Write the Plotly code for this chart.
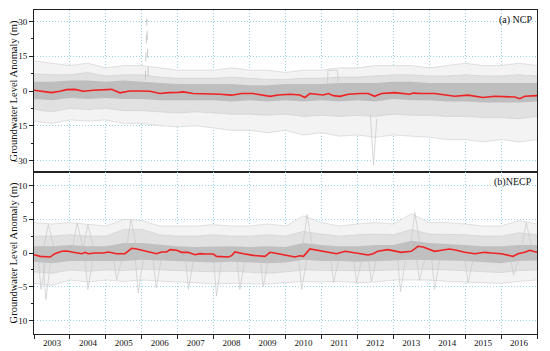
import plotly.graph_objects as go
from plotly.subplots import make_subplots

# ---------------- data ----------------
years = list(range(2003, 2017))
year_labels = [str(y) for y in years]
band_t = [2003.0 + 0.5 * i for i in range(29)]

# (a) NCP – envelope of individual well hydrographs (m)
ncp_outer_hi = [13, 12, 11, 12, 10, 11, 11, 10, 9, 9, 9, 10, 9, 9, 8, 9, 9, 10, 10, 11, 11, 11, 10, 11, 12, 11, 11, 12, 11]
ncp_mid_hi = [7.5, 7, 7, 8, 6.5, 7, 7, 6, 5.5, 5.5, 5.5, 6, 5.5, 5, 5, 5.5, 5.5, 6, 6, 6.5, 7, 7, 6.5, 6.5, 7, 6.5, 6.5, 7, 6.5]
ncp_core_hi = [4, 4, 4.5, 4.5, 4, 4.5, 4, 3.5, 3, 3, 3, 3, 2.5, 2.5, 3, 3, 3, 3.5, 3.5, 3.5, 4, 4, 3.5, 3.5, 3.5, 3.5, 3.5, 3.5, 3.5]
ncp_core_lo = [-3.5, -4, -3, -3.5, -3, -3.5, -3.5, -4, -4, -4, -4, -4.5, -4, -4.5, -4, -4.5, -4, -4.5, -4, -4.5, -3.5, -4, -4, -4.5, -4.5, -5, -5, -5, -4.5]
ncp_mid_lo = [-8, -9, -7.5, -8, -7.5, -8.5, -8.5, -9, -9.5, -9, -9.5, -10, -10, -10.5, -10, -11, -10.5, -11, -10.5, -11, -10, -10.5, -10.5, -11, -11, -11.5, -11.5, -12, -11]
ncp_outer_lo = [-13, -14, -12.5, -13, -12.5, -14, -14, -15, -15.5, -15, -16, -17, -17, -18, -17, -19, -18, -19.5, -19, -20, -19, -19.5, -20, -21, -21, -22, -21, -22, -21]

# (a) NCP – regional mean (red)
ncp_mean_t = [2003.0, 2003.49, 2003.72, 2003.91, 2004.14, 2004.37, 2004.65, 2004.88, 2005.16, 2005.39,
              2005.67, 2005.95, 2006.23, 2006.51, 2006.74, 2007.02, 2007.16, 2007.43, 2007.71, 2007.90,
              2008.18, 2008.50, 2008.78, 2009.10, 2009.43, 2009.57, 2009.80, 2010.13, 2010.40, 2010.54,
              2010.68, 2010.91, 2011.05, 2011.19, 2011.33, 2011.52, 2011.75, 2012.07, 2012.30, 2012.48,
              2012.67, 2013.04, 2013.22, 2013.46, 2013.55, 2013.78, 2014.15, 2014.38, 2014.71, 2015.08,
              2015.50, 2015.82, 2016.10, 2016.38, 2016.52, 2016.66, 2017.0]
ncp_mean_v = [0.3, -0.7, -0.1, 0.6, 0.7, -0.1, 0.3, 0.4, 0.7, -0.8,
              0.0, 0.0, -0.1, -1.1, -0.7, -0.6, -0.4, -1.1, -1.2, -1.1,
              -1.4, -1.8, -1.1, -1.1, -2.1, -2.3, -1.7, -1.4, -1.7, -2.8,
              -1.1, -1.4, -1.7, -1.1, -2.0, -2.3, -1.4, -1.1, -1.1, -2.3,
              -1.1, -0.7, -0.9, -1.4, -0.9, -1.1, -1.1, -1.7, -2.3, -1.8,
              -2.8, -2.3, -2.6, -2.6, -3.3, -2.3, -2.0]

# (a) NCP – isolated outlier wells
ncp_spike_t = [2006.10, 2006.14, 2006.18]
ncp_spike_v = [5, 31, 5]
ncp_dip_t = [2012.36, 2012.45, 2012.54]
ncp_dip_v = [-10, -32, -12]
ncp_step_t = [2011.17, 2011.18, 2011.45, 2011.46]
ncp_step_v = [3, 9, 9, 3]

# (b) NECP – envelope
necp_outer_hi = [4.5, 4.3, 4.5, 4.3, 4.0, 5.0, 4.8, 4.0, 4.0, 4.0, 4.2, 4.0, 4.0, 4.3, 4.0, 5.5, 4.5, 4.0, 4.3, 4.5, 4.3, 5.8, 4.5, 4.5, 4.3, 4.0, 4.0, 4.8, 4.3]
necp_mid_hi = [2.5, 2.5, 2.7, 2.5, 2.5, 3.5, 3.5, 2.7, 2.5, 2.5, 2.7, 2.5, 2.5, 2.7, 2.5, 3.2, 2.8, 2.5, 2.7, 2.8, 2.7, 3.5, 2.8, 2.8, 2.7, 2.5, 2.5, 3.0, 2.7]
necp_core_hi = [1.0, 1.0, 1.2, 1.0, 1.0, 1.5, 1.5, 1.2, 1.0, 0.9, 1.0, 1.0, 0.9, 1.0, 0.9, 1.5, 1.2, 1.0, 1.0, 1.2, 1.2, 1.8, 1.5, 1.4, 1.2, 1.0, 1.0, 1.2, 1.2]
necp_core_lo = [-1.3, -1.5, -1.2, -1.3, -1.2, -1.2, -1.0, -1.2, -1.2, -1.3, -1.4, -1.3, -1.4, -1.5, -1.4, -1.0, -1.2, -1.2, -1.3, -1.2, -1.1, -1.0, -1.0, -1.1, -1.2, -1.3, -1.5, -1.2, -1.1]
necp_mid_lo = [-2.8, -3.0, -2.5, -2.7, -2.5, -2.6, -2.4, -2.5, -2.6, -2.7, -2.8, -2.7, -2.8, -3.0, -2.8, -2.5, -2.6, -2.6, -2.7, -2.6, -2.5, -2.4, -2.4, -2.5, -2.6, -2.7, -2.9, -2.6, -2.5]
necp_outer_lo = [-4.5, -4.8, -4.0, -4.3, -4.0, -4.2, -4.0, -4.2, -4.3, -4.4, -4.6, -4.5, -4.5, -4.6, -4.4, -4.2, -4.3, -4.2, -4.4, -4.3, -4.0, -4.0, -4.0, -4.2, -4.3, -4.4, -4.5, -4.2, -4.0]

# (b) NECP – regional mean (red)
necp_mean_t = [2003.0, 2003.17, 2003.45, 2003.58, 2003.77, 2003.91, 2004.09, 2004.33, 2004.42, 2004.51,
               2004.70, 2004.93, 2005.07, 2005.30, 2005.53, 2005.72, 2005.86, 2006.04, 2006.23, 2006.41,
               2006.55, 2006.69, 2006.79, 2006.97, 2007.11, 2007.29, 2007.48, 2007.62, 2007.76, 2007.99,
               2008.08, 2008.41, 2008.50, 2008.59, 2008.83, 2009.10, 2009.43, 2009.57, 2009.80, 2010.08,
               2010.26, 2010.40, 2010.50, 2010.68, 2010.87, 2011.10, 2011.42, 2011.66, 2011.84, 2012.07,
               2012.30, 2012.44, 2012.57, 2012.85, 2013.04, 2013.22, 2013.50, 2013.69, 2013.83, 2014.15,
               2014.34, 2014.57, 2014.76, 2014.99, 2015.27, 2015.50, 2015.54, 2015.73, 2016.01, 2016.33,
               2016.47, 2016.66, 2016.80, 2016.89, 2017.0]
necp_mean_v = [-0.25, -0.5, -0.6, -0.1, 0.25, 0.3, 0.1, -0.1, 0.1, -0.1,
               0.0, 0.0, 0.15, -0.1, -0.1, 0.7, 0.6, 0.4, 0.1, -0.1,
               0.15, 0.15, 0.5, 0.4, 0.1, 0.1, -0.25, -0.1, -0.15, -0.15,
               -0.5, -0.6, -0.4, 0.15, -0.1, -0.35, -0.5, 0.1, -0.1, -0.4,
               -0.6, -0.4, -0.5, 0.6, 0.4, 0.15, -0.1, 0.25, 0.1, -0.1,
               -0.3, -0.1, 0.25, 0.5, 0.25, 0.1, 0.25, 1.0, 0.9, 0.25,
               0.4, 0.6, 0.4, 0.1, -0.1, 0.0, 0.1, 0.0, -0.1, -0.5,
               -0.1, 0.1, 0.4, 0.25, 0.1]

# (b) NECP – sharp seasonal drawdowns / rises of single wells
necp_dip_t = [2003.2, 2003.33, 2004.5, 2005.3, 2005.9, 2006.4, 2007.3, 2008.08, 2008.73, 2009.38,
              2010.45, 2011.34, 2011.98, 2012.39, 2013.2, 2013.73, 2014.15, 2015.08, 2016.35]
necp_dip_v = [-5.4, -6.9, -5.4, -4.0, -5.9, -5.2, -5.4, -6.4, -5.4, -5.0,
              -5.4, -4.4, -4.4, -4.2, -5.7, -4.0, -5.4, -4.5, -3.3]
necp_rise_t = [2003.4, 2004.2, 2004.5, 2005.7, 2010.6, 2013.6, 2016.7]
necp_rise_v = [4.2, 4.5, 4.2, 5.0, 5.7, 6.0, 4.5]

# ---------------- figure ----------------
FONT = "Times New Roman, Liberation Serif, serif"
GRID = "rgb(150,212,235)"
GDASH = "1px,2px"
RED = "#ee2222"
THIN = "rgb(205,205,205)"

fig = make_subplots(rows=2, cols=1, shared_xaxes=True, vertical_spacing=0)


def band(lo, hi, color, row):
    fig.add_trace(go.Scatter(x=band_t + band_t[::-1], y=hi + lo[::-1], fill="toself",
                             fillcolor=color, line=dict(width=0), mode="lines",
                             hoverinfo="skip", showlegend=False), row=row, col=1)


def edge(vals, row, color=THIN):
    fig.add_trace(go.Scatter(x=band_t, y=vals, mode="lines", line=dict(color=color, width=0.6),
                             hoverinfo="skip", showlegend=False), row=row, col=1)


def spikes(ts, vs, base, row, left=0.08, right=0.14):
    xs, ys = [], []
    for t, v in zip(ts, vs):
        xs += [t - left, t, t + right, None]
        ys += [base, v, base, None]
    fig.add_trace(go.Scatter(x=xs, y=ys, mode="lines", line=dict(color="rgb(200,200,200)", width=0.7),
                             hoverinfo="skip", showlegend=False), row=row, col=1)


# panel a
band(ncp_outer_lo, ncp_outer_hi, "rgb(243,243,243)", 1)
band(ncp_mid_lo, ncp_mid_hi, "rgb(225,225,225)", 1)
band(ncp_core_lo, ncp_core_hi, "rgb(190,190,190)", 1)
for arr in (ncp_outer_hi, ncp_outer_lo, ncp_mid_hi, ncp_mid_lo):
    edge(arr, 1)
fig.add_trace(go.Scatter(x=ncp_spike_t, y=ncp_spike_v, mode="lines",
                         line=dict(color="rgb(190,190,190)", width=0.8, dash="dash"),
                         showlegend=False), row=1, col=1)
fig.add_trace(go.Scatter(x=ncp_dip_t, y=ncp_dip_v, mode="lines",
                         line=dict(color="rgb(205,205,205)", width=0.8), showlegend=False), row=1, col=1)
fig.add_trace(go.Scatter(x=ncp_step_t, y=ncp_step_v, mode="lines",
                         line=dict(color="rgb(205,205,205)", width=0.8), showlegend=False), row=1, col=1)
fig.add_trace(go.Scatter(x=ncp_mean_t, y=ncp_mean_v, mode="lines",
                         line=dict(color=RED, width=1.6), showlegend=False), row=1, col=1)

# panel b
band(necp_outer_lo, necp_outer_hi, "rgb(243,243,243)", 2)
band(necp_mid_lo, necp_mid_hi, "rgb(225,225,225)", 2)
band(necp_core_lo, necp_core_hi, "rgb(192,192,192)", 2)
for arr in (necp_outer_hi, necp_outer_lo, necp_mid_hi, necp_mid_lo):
    edge(arr, 2)
spikes(necp_dip_t, necp_dip_v, -1.0, 2)
spikes(necp_rise_t, necp_rise_v, 1.0, 2, left=0.12, right=0.15)
fig.add_trace(go.Scatter(x=necp_mean_t, y=necp_mean_v, mode="lines",
                         line=dict(color=RED, width=1.6), showlegend=False), row=2, col=1)

axis_common = dict(showline=True, linecolor="#222", linewidth=1, mirror=True, automargin=False,
                   tickfont=dict(family=FONT, size=9, color="#111"), zeroline=False)

fig.update_xaxes(range=[2003, 2017], **axis_common, showgrid=False)
fig.update_xaxes(row=1, col=1, showticklabels=False, ticks="",
                 tickvals=[y + 0.5 for y in years],
                 minor=dict(tickvals=list(range(2003, 2018)), showgrid=True, gridcolor=GRID,
                            griddash=GDASH, gridwidth=1, ticks=""))
fig.update_xaxes(row=2, col=1, tickmode="array", tickvals=[y + 0.5 for y in years],
                 ticktext=year_labels, ticks="", showticklabels=True,
                 minor=dict(tickvals=list(range(2003, 2018)), showgrid=True, gridcolor=GRID,
                            griddash=GDASH, gridwidth=1, ticks="outside", ticklen=4,
                            tickcolor="#222"))

ytitle = dict(text="Groundwater Level Anomaly (m)", font=dict(family=FONT, size=10.5, color="#111"),
              standoff=2)
fig.update_yaxes(row=1, col=1, range=[-35, 35], tickvals=[-30, -15, 0, 15, 30],
                 ticks="outside", ticklen=4, tickcolor="#222", showgrid=True, gridcolor=GRID,
                 griddash=GDASH, gridwidth=1, title=ytitle,
                 minor=dict(tickvals=[-22.5, -7.5, 7.5, 22.5], ticks="outside", ticklen=2,
                            tickcolor="#222"), **axis_common)
fig.update_yaxes(row=2, col=1, range=[-12, 12], tickvals=[-10, -5, 0, 5, 10],
                 ticks="outside", ticklen=4, tickcolor="#222", showgrid=True, gridcolor=GRID,
                 griddash=GDASH, gridwidth=1, title=ytitle,
                 minor=dict(tickvals=[-7.5, -2.5, 2.5, 7.5], ticks="outside", ticklen=2,
                            tickcolor="#222"), **axis_common)

fig.add_annotation(text="(a) NCP", xref="x domain", yref="y domain", x=0.995, y=0.985,
                   xanchor="right", yanchor="top", showarrow=False,
                   font=dict(family=FONT, size=10, color="#111"))
fig.add_annotation(text="(b)NECP", xref="x2 domain", yref="y2 domain", x=0.995, y=0.985,
                   xanchor="right", yanchor="top", showarrow=False,
                   font=dict(family=FONT, size=10, color="#111"))

# the page body adds an 8 px offset, so the figure is sized to fit the 550x351 window
fig.update_layout(width=542, height=343, margin=dict(l=26, r=13, t=2, b=17),
                  plot_bgcolor="white", paper_bgcolor="white", showlegend=False)

fig.write_html("out.html")
